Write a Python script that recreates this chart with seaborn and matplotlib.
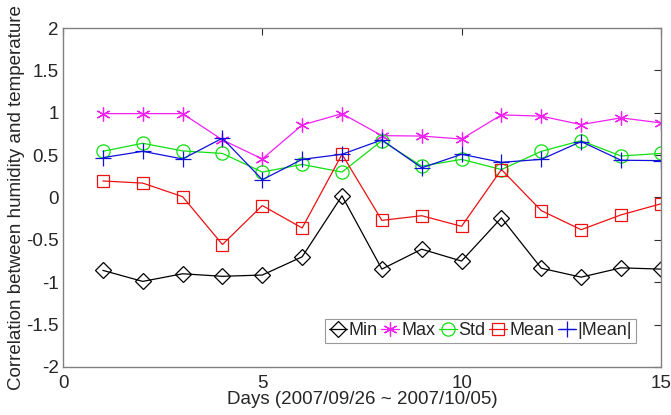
import numpy as np
import pandas as pd
import matplotlib
matplotlib.use("Agg")
import matplotlib.pyplot as plt
import seaborn as sns

days = list(range(1, 16))
corr_min = [-0.86, -0.99, -0.90, -0.93, -0.915, -0.70, 0.02, -0.845, -0.61, -0.75, -0.24, -0.835, -0.94, -0.83, -0.845]
corr_max = [0.99, 0.99, 0.99, 0.68, 0.455, 0.855, 0.99, 0.73, 0.725, 0.69, 0.975, 0.96, 0.86, 0.94, 0.88]
corr_std = [0.545, 0.64, 0.55, 0.52, 0.30, 0.39, 0.30, 0.67, 0.37, 0.45, 0.33, 0.545, 0.67, 0.49, 0.52]
corr_mean = [0.195, 0.17, 0.01, -0.555, -0.095, -0.36, 0.51, -0.27, -0.215, -0.34, 0.33, -0.155, -0.38, -0.205, -0.075]
corr_absmean = [0.47, 0.545, 0.455, 0.70, 0.21, 0.45, 0.51, 0.68, 0.35, 0.51, 0.415, 0.45, 0.66, 0.44, 0.435]

series_names = ["Min", "Max", "Std", "Mean", "|Mean|"]
x_ticks = [0, 5, 10, 15]
y_ticks = [-2, -1.5, -1, -0.5, 0, 0.5, 1, 1.5, 2]
y_ticklabels = ["-2", "-1.5", "-1", "-0.5", "0", "0.5", "1", "1.5", "2"]

df = pd.DataFrame({
    "day": days * 5,
    "value": corr_min + corr_max + corr_std + corr_mean + corr_absmean,
    "series": sum([[n] * len(days) for n in series_names], []),
})

sns.set_style("white")
plt.rcParams["font.family"] = ["Liberation Sans", "DejaVu Sans"]

styles = {
    "Min": dict(color="black", marker="D", ms=8),
    "Max": dict(color="#f020f0", marker=(6, 2, 0), ms=10),
    "Std": dict(color="#10e010", marker="o", ms=9.5),
    "Mean": dict(color="#ee1111", marker="s", ms=8.5),
    "|Mean|": dict(color="#1010dd", marker="+", ms=12),
}

fig = plt.figure(figsize=(6.71, 4.15), dpi=100)
ax = fig.add_axes([0.0939, 0.1157, 0.891, 0.8168])

for name in series_names:
    st = styles[name]
    sub = df[df["series"] == name]
    sns.lineplot(data=sub, x="day", y="value", ax=ax, color=st["color"],
                 marker=st["marker"], markersize=st["ms"],
                 markerfacecolor="none", markeredgecolor=st["color"],
                 markeredgewidth=0.9, linewidth=0.9, label=name)

ax.set_xlim(0, 15)
ax.set_ylim(-2, 2)
ax.set_xticks(x_ticks)
ax.set_xticklabels([str(t) for t in x_ticks])
ax.set_yticks(y_ticks)
ax.set_yticklabels(y_ticklabels)
ax.set_xlabel("Days (2007/09/26 ~ 2007/10/05)", fontsize=13.5, labelpad=-1)
ax.set_ylabel("Correlation between humidity and temperature", fontsize=13.5, labelpad=1)

for sp in ax.spines.values():
    sp.set_visible(True)
    sp.set_color("#808080")
    sp.set_linewidth(1.0)
ax.tick_params(direction="in", length=5, width=0.8, color="#303030",
               labelsize=13.5, top=True, right=True, pad=3)
ax.tick_params(axis="x", pad=6)

leg = ax.legend(loc="lower right", ncol=5, fontsize=13, frameon=True,
                handlelength=1.0, handletextpad=0.1, columnspacing=0.2,
                borderpad=0.2, borderaxespad=0.0, fancybox=False,
                bbox_to_anchor=(0.958, 0.071))
leg.get_frame().set_edgecolor("#808080")
leg.get_frame().set_linewidth(0.8)

fig.savefig("out.png", dpi=100)
